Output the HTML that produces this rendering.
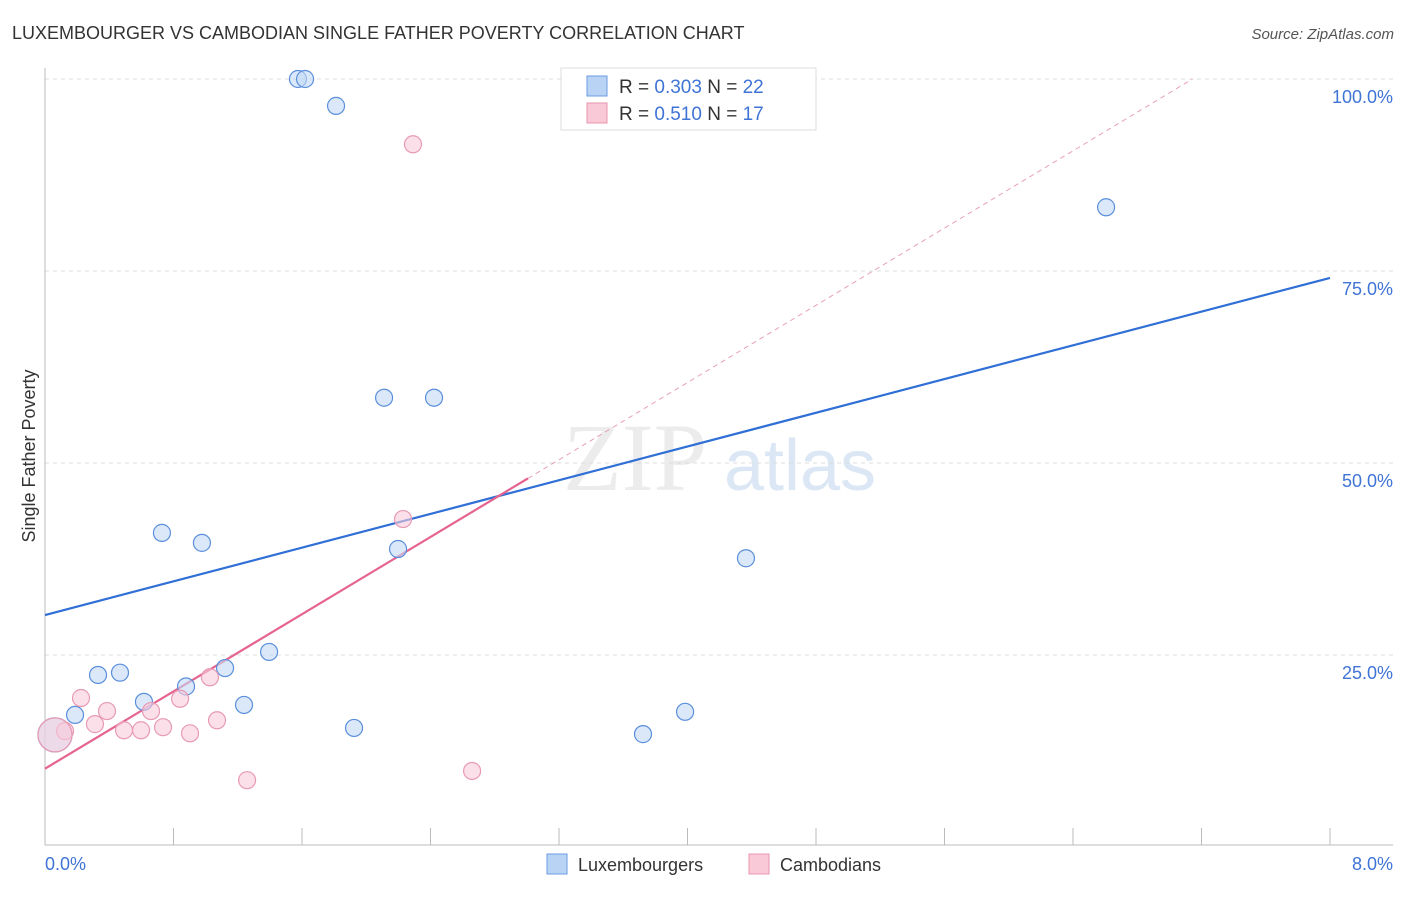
<!DOCTYPE html>
<html><head><meta charset="utf-8"><style>
body{margin:0;background:#fff;font-family:"Liberation Sans",sans-serif}
</style></head><body>
<svg width="1406" height="892" xmlns="http://www.w3.org/2000/svg" font-family="Liberation Sans, sans-serif">
<text x="12" y="39" font-size="18" fill="#333">LUXEMBOURGER VS CAMBODIAN SINGLE FATHER POVERTY CORRELATION CHART</text>
<text x="1394" y="39" font-size="15" fill="#555" font-style="italic" text-anchor="end">Source: ZipAtlas.com</text>
<text x="635" y="490" font-size="96" fill="#ececec" font-family="Liberation Serif, serif" text-anchor="middle">ZIP</text>
<text x="800" y="490" font-size="72" fill="#dce7f5" text-anchor="middle">atlas</text>
<g id="grid"></g><g id="axes"></g><g id="lines"></g><g id="pts"></g>
<text x="35" y="456" font-size="18" fill="#333" text-anchor="middle" transform="rotate(-90 35 456)">Single Father Poverty</text>
<text x="45" y="870" font-size="18" fill="#3f74d6">0.0%</text>
<text x="1393" y="870" font-size="18" fill="#3f74d6" text-anchor="end">8.0%</text>
<g>
<rect x="561" y="68" width="255" height="62" fill="#fff" stroke="#ddd"/>
<rect x="587" y="76" width="20" height="20" fill="#b9d3f5" stroke="#6a9be0"/>
<rect x="587" y="103" width="20" height="20" fill="#f9c9d7" stroke="#e895ae"/>
<text x="619" y="93" font-size="19" fill="#333">R = <tspan fill="#3f74d6">0.303</tspan>   N = <tspan fill="#3f74d6">22</tspan></text>
<text x="619" y="120" font-size="19" fill="#333">R =  <tspan fill="#3f74d6">0.510</tspan>   N =  <tspan fill="#3f74d6">17</tspan></text>
</g>
<g>
<rect x="547" y="854" width="20" height="20" fill="#b9d3f5" stroke="#6a9be0"/>
<text x="578" y="871" font-size="18" fill="#333">Luxembourgers</text>
<rect x="749" y="854" width="20" height="20" fill="#f9c9d7" stroke="#e895ae"/>
<text x="780" y="871" font-size="18" fill="#333">Cambodians</text>
</g>
</svg>
<script>
const yTicks=[25,50,75,100];
const xTicks=[0,0.8,1.6,2.4,3.2,4,4.8,5.6,6.4,7.2,8];
const luxX=[1.575,1.619,1.812,6.606,2.111,2.422,0.728,0.977,2.198,4.364,1.395,0.330,0.467,1.121,0.878,0.616,1.239,0.187,1.924,3.723,3.985,0.031];
const luxY=[100,100,96.5,83.3,58.5,58.5,40.9,39.6,38.8,37.6,25.4,22.4,22.7,23.3,20.9,18.9,18.5,17.2,15.5,14.7,17.6,14.6];
const camX=[2.291,2.229,1.027,0.224,0.841,0.386,0.660,0.311,1.071,0.492,0.598,0.735,0.903,0.125,2.659,1.258,0.031];
const camY=[91.5,42.7,22.1,19.4,19.3,17.7,17.7,16.0,16.5,15.2,15.2,15.6,14.8,15.1,9.9,8.7,14.6];
const luxLine=[30.2,74.1];
const camLine=[10.2,12.57];
const camSolidEnd=3.007;
const NS="http://www.w3.org/2000/svg";
const sx=v=>45+v/8*1285, sy=v=>847-v/100*768;
function mk(p,t,a){const e=document.createElementNS(NS,t);for(const k in a)e.setAttribute(k,a[k]);document.getElementById(p).appendChild(e);return e;}
yTicks.forEach(t=>{
 const l=mk('grid','line',{x1:45,x2:1393,y1:sy(t),y2:sy(t),stroke:'#ddd','stroke-dasharray':'4,4'});
 
 
 const tx=mk('grid','text',{x:1393,y:sy(t)+24,'font-size':18,fill:'#3f74d6','text-anchor':'end'});
 tx.textContent=t.toFixed(1)+'%';
 
 
});
mk('axes','line',{x1:45,x2:45,y1:68,y2:845,stroke:'#bbb'});
mk('axes','line',{x1:45,x2:1393,y1:845,y2:845,stroke:'#bbb'});
xTicks.forEach(t=>{
 const l=mk('axes','line',{x1:sx(t),x2:sx(t),y1:828,y2:845,stroke:'#bbb'});
 
 
});
let l1=mk('lines','line',{x1:sx(0),y1:sy(luxLine[0]),x2:sx(8),y2:sy(luxLine[1]),stroke:'#2f6fd6','stroke-width':2.2});


const xEnd=(100-camLine[0])/camLine[1];
let l2=mk('lines','line',{x1:sx(camSolidEnd),y1:sy(camLine[0]+camLine[1]*camSolidEnd),x2:sx(xEnd),y2:sy(100),stroke:'#e8a0b8','stroke-width':1,'stroke-dasharray':'5,4'});


let l3=mk('lines','line',{x1:sx(0),y1:sy(camLine[0]),x2:sx(camSolidEnd),y2:sy(camLine[0]+camLine[1]*camSolidEnd),stroke:'#e5638e','stroke-width':2.2});


function pts(X,Y,fill,stroke,name){X.forEach((x,i)=>{
 const big=x<0.05;
 const c=mk('pts','circle',{cx:sx(x)+(big?5:0),cy:sy(Y[i]),r:big?17:8.5,fill:fill,stroke:stroke,'stroke-width':1.2,'fill-opacity':big?0.55:0.6});
 
 
});}
pts(luxX,luxY,'#c2d8f5','#5b8fdc','luxembourger-point');
pts(camX,camY,'#f9ccda','#e89ab4','cambodian-point');
</script>
</body></html>
